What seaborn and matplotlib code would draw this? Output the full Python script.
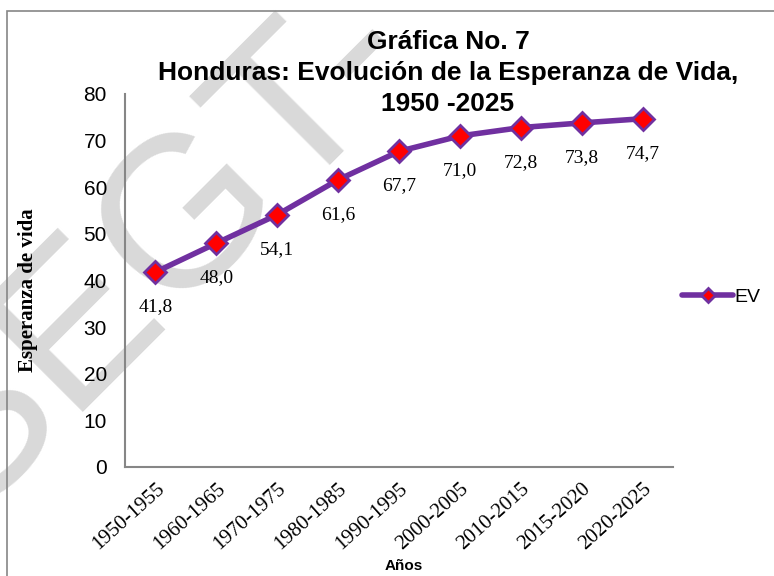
import numpy as np
import pandas as pd
import matplotlib
matplotlib.use("Agg")
import matplotlib.pyplot as plt
from matplotlib.patches import Rectangle
import seaborn as sns

# Datos de la grafica
periodos = ['1950-1955', '1960-1965', '1970-1975', '1980-1985', '1990-1995',
            '2000-2005', '2010-2015', '2015-2020', '2020-2025']
esperanza_vida = [41.8, 48.0, 54.1, 61.6, 67.7, 71.0, 72.8, 73.8, 74.7]
etiquetas = ['41,8', '48,0', '54,1', '61,6', '67,7', '71,0', '72,8', '73,8', '74,7']

df = pd.DataFrame({'periodo': periodos, 'EV': esperanza_vida})

sns.set_theme(style="white")
plt.rcParams['font.family'] = ['Liberation Sans', 'DejaVu Sans']
plt.rcParams['text.color'] = 'black'
plt.rcParams['axes.labelcolor'] = 'black'
plt.rcParams['xtick.color'] = 'black'
plt.rcParams['ytick.color'] = 'black'

purpura = '#7030A0'
gris = '#868686'

fig = plt.figure(figsize=(7.74, 5.76), dpi=100)
ax = fig.add_axes([125/774, 1 - 467/576, 548/774, 373/576])

# marca de agua
fig.text(-33/774, 1 - 519/576, 'SEGT-', rotation=45, rotation_mode='anchor',
         ha='left', va='baseline', fontsize=155, color='#d9d9d9', zorder=0)
ax.set_facecolor('none')
ax.set_zorder(2)

# marco exterior
fig.patches.append(Rectangle((7/774, -0.2), 2, 1.2 - 11/576, transform=fig.transFigure,
                             fill=False, edgecolor=gris, linewidth=1.2))

sns.lineplot(data=df, x='periodo', y='EV', ax=ax, color=purpura, linewidth=4,
             marker='D', markersize=11, markerfacecolor='#FF0000',
             markeredgecolor=purpura, markeredgewidth=2, label='EV', sort=False)

for i, (v, t) in enumerate(zip(esperanza_vida, etiquetas)):
    ax.annotate(t, (i, v), xytext=(0, -25), textcoords='offset points',
                ha='center', va='center', fontsize=14, family='Liberation Serif')

ax.set_xlim(-0.5, 8.5)
ax.set_ylim(0, 80)
ax.set_yticks(range(0, 81, 10))
ax.tick_params(axis='y', labelsize=15, length=0, pad=13)
ax.tick_params(axis='x', length=0, pad=8.6)
for lab in ax.get_xticklabels():
    lab.set_rotation(42)
    lab.set_ha('right')
    lab.set_rotation_mode('anchor')
    lab.set_family('Liberation Serif')
    lab.set_fontsize(15)

for s in ['top', 'right']:
    ax.spines[s].set_visible(False)
for s in ['left', 'bottom']:
    ax.spines[s].set_color(gris)
    ax.spines[s].set_linewidth(1.5)

ax.set_ylabel('Esperanza de vida', fontsize=15, fontweight='bold',
              family='Liberation Serif', va='center')
ax.yaxis.set_label_coords((28 - 125)/548, (467 - 290)/373)
ax.set_xlabel('Años', fontsize=11, fontweight='bold', va='baseline')
ax.xaxis.set_label_coords((404 - 125)/548, -(570 - 467)/373)

titulo = ['Gráfica No. 7', 'Honduras: Evolución de la Esperanza de Vida,', '1950 -2025']
for linea, yb in zip(titulo, [49, 80, 111]):
    fig.text(448/774, 1 - yb/576, linea, ha='center', va='baseline',
             fontsize=19, fontweight='bold')

leg = ax.legend(loc='center left', bbox_to_anchor=(0.985, 0.455), frameon=False,
                fontsize=14, handlelength=2.6, handletextpad=0.1)
for h in leg.legend_handles:
    h.set_markersize(7)

fig.savefig('out.png', dpi=100)
